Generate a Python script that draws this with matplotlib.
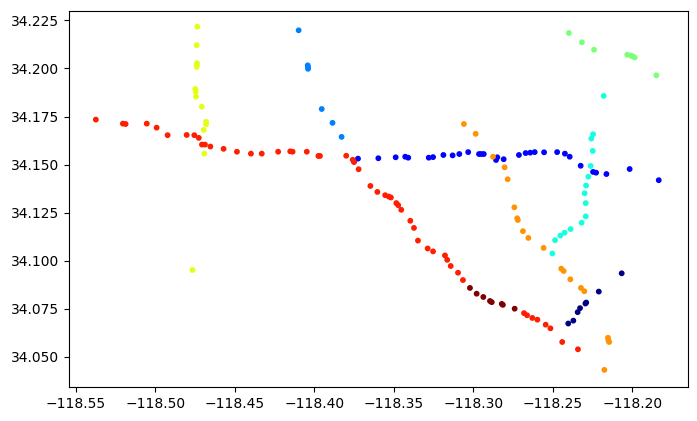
import numpy as np
from matplotlib import pyplot as plt

# station coordinates per cluster
lon0 = [-118.2067, -118.2211, -118.2290, -118.2295, -118.2329, -118.2344, -118.2371, -118.2403]
lat0 = [34.0935, 34.0840, 34.0783, 34.0778, 34.0754, 34.0733, 34.0689, 34.0674]

lon1 = [-118.3750, -118.3725, -118.3597, -118.3488, -118.3428, -118.3409, -118.3280, -118.3253,
        -118.3188, -118.3130, -118.3088, -118.3032, -118.2964, -118.2950, -118.2934, -118.2857,
        -118.2849, -118.2809, -118.2713, -118.2671, -118.2642, -118.2614, -118.2555, -118.2473,
        -118.2424, -118.2394, -118.2325, -118.2247, -118.2228, -118.2163, -118.2017, -118.1834]
lat1 = [34.1515, 34.1531, 34.1533, 34.1538, 34.1541, 34.1536, 34.1536, 34.1539,
        34.1550, 34.1548, 34.1555, 34.1565, 34.1555, 34.1555, 34.1555, 34.1524,
        34.1538, 34.1528, 34.1550, 34.1560, 34.1562, 34.1565, 34.1564, 34.1565,
        34.1557, 34.1541, 34.1494, 34.1462, 34.1458, 34.1451, 34.1477, 34.1419]

lon2 = [-118.4098, -118.4041, -118.4039, -118.4039, -118.3953, -118.3885, -118.3828]
lat2 = [34.2198, 34.2016, 34.2007, 34.1998, 34.1789, 34.1717, 34.1644]

lon3 = [-118.2180, -118.2247, -118.2258, -118.2249, -118.2262, -118.2277, -118.2291, -118.2300,
        -118.2293, -118.2293, -118.2319, -118.2388, -118.2426, -118.2453, -118.2486, -118.2503]
lat3 = [34.1857, 34.1658, 34.1635, 34.1571, 34.1493, 34.1437, 34.1391, 34.1351,
        34.1300, 34.1231, 34.1198, 34.1165, 34.1146, 34.1131, 34.1107, 34.1038]

lon4 = [-118.2399, -118.2317, -118.2241, -118.2032, -118.2011, -118.2000, -118.1985, -118.1849]
lat4 = [34.2184, 34.2136, 34.2097, 34.2071, 34.2067, 34.2064, 34.2057, 34.1964]

lon5 = [-118.4735, -118.4739, -118.4737, -118.4739, -118.4739, -118.4748, -118.4745, -118.4743,
        -118.4707, -118.4680, -118.4680, -118.4695, -118.4691, -118.4766]
lat5 = [34.2217, 34.2121, 34.2027, 34.2017, 34.2008, 34.1893, 34.1879, 34.1853,
        34.1801, 34.1722, 34.1710, 34.1680, 34.1557, 34.0952]

lon6 = [-118.3059, -118.2985, -118.2876, -118.2803, -118.2784, -118.2742, -118.2724, -118.2720,
        -118.2688, -118.2654, -118.2558, -118.2447, -118.2432, -118.2390, -118.2323, -118.2302,
        -118.2153, -118.2151, -118.2146, -118.2176]
lat6 = [34.1711, 34.1660, 34.1541, 34.1486, 34.1424, 34.1278, 34.1221, 34.1212,
        34.1154, 34.1119, 34.1067, 34.0959, 34.0947, 34.0904, 34.0859, 34.0842,
        34.0600, 34.0588, 34.0578, 34.0433]

lon7 = [-118.5373, -118.5203, -118.5186, -118.5053, -118.4991, -118.4922, -118.4802, -118.4754,
        -118.4726, -118.4706, -118.4687, -118.4653, -118.4570, -118.4486, -118.4398, -118.4330,
        -118.4227, -118.4151, -118.4136, -118.4047, -118.3974, -118.3964, -118.3799, -118.3758,
        -118.3750, -118.3721, -118.3647, -118.3603, -118.3554, -118.3532, -118.3518, -118.3484,
        -118.3472, -118.3453, -118.3396, -118.3373, -118.3348, -118.3287, -118.3253, -118.3178,
        -118.3164, -118.3142, -118.3096, -118.3065, -118.2681, -118.2662, -118.2629, -118.2597,
        -118.2545, -118.2515, -118.2441, -118.2342]
lat7 = [34.1734, 34.1713, 34.1711, 34.1713, 34.1692, 34.1653, 34.1654, 34.1653,
        34.1639, 34.1604, 34.1604, 34.1594, 34.1582, 34.1567, 34.1557, 34.1557,
        34.1567, 34.1569, 34.1567, 34.1567, 34.1545, 34.1545, 34.1546, 34.1525,
        34.1514, 34.1476, 34.1389, 34.1358, 34.1341, 34.1334, 34.1329, 34.1300,
        34.1289, 34.1265, 34.1208, 34.1171, 34.1105, 34.1064, 34.1049, 34.1028,
        34.1005, 34.0973, 34.0938, 34.0900, 34.0728, 34.0717, 34.0703, 34.0694,
        34.0668, 34.0649, 34.0578, 34.0540]

lon8 = [-118.3021, -118.2979, -118.2937, -118.2895, -118.2884, -118.2821, -118.2814, -118.2740]
lat8 = [34.0859, 34.0829, 34.0812, 34.0791, 34.0785, 34.0776, 34.0771, 34.0751]

lons = [lon0, lon1, lon2, lon3, lon4, lon5, lon6, lon7, lon8]
lats = [lat0, lat1, lat2, lat3, lat4, lat5, lat6, lat7, lat8]

x = np.concatenate(lons)
y = np.concatenate(lats)
labels = np.repeat(np.arange(len(lons)), [len(l) for l in lons])

fig = plt.figure(figsize=(6.97, 4.21), dpi=100)
ax = fig.add_axes([68.5 / 697, 33.7 / 421, 619.2 / 697, 376.8 / 421])
ax.scatter(x, y, c=labels, cmap='jet', s=10)
ax.set_xlim(-118.5545, -118.1652)
ax.set_ylim(34.03425, 34.2301)

fig.savefig('out.png', dpi=100)
